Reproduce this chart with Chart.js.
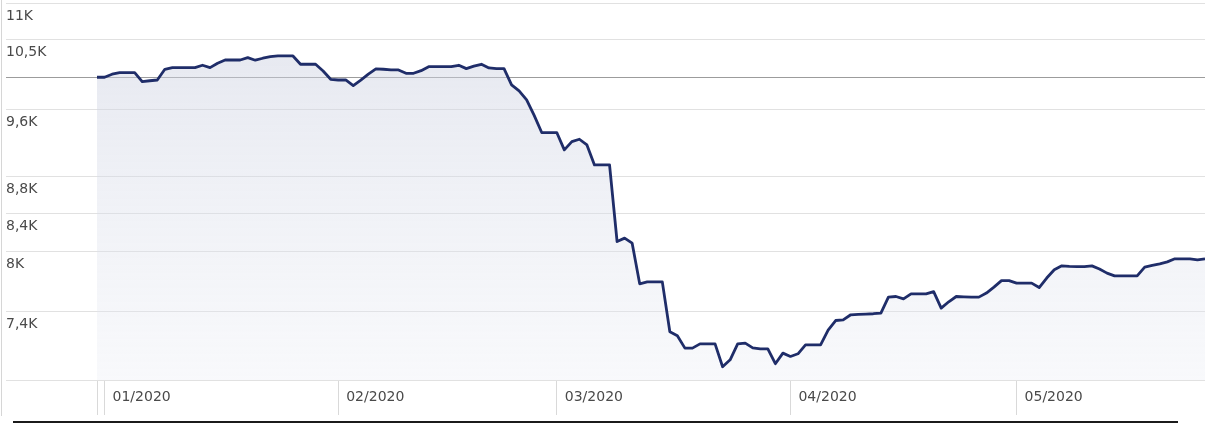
<!DOCTYPE html>
<html>
<head>
<meta charset="utf-8">
<script src="https://cdn.jsdelivr.net/npm/chart.js@4.4.1/dist/chart.umd.min.js"></script>
<style>
  html, body { margin: 0; padding: 0; background: #fff; }
  #wrap { position: relative; width: 1207px; height: 424px; overflow: hidden; }
  #chart { position: absolute; left: 0; top: 0; }
  #edge { position: absolute; left: 1px; top: 0; width: 1px; height: 416px; background: #d6d6d6; }
  #rail { position: absolute; left: 13px; top: 421px; width: 1165px; height: 2px; background: #1b1b1b; }
</style>
</head>
<body>
<div id="wrap">
  <canvas id="chart" width="1207" height="418"></canvas>
  <div id="edge"></div>
  <div id="rail"></div>
</div>
<script>
/* global Chart */

// daily closes, one per calendar day from the start date (weekends hold Friday's value)
const startDate = '2019-12-31'
const closes = [
  10000, 10000, 10039, 10059, 10059, 10059, 9944, 9955, 9965, 10103,
  10124, 10124, 10124, 10124, 10155, 10124, 10181, 10224, 10224, 10224,
  10255, 10221, 10247, 10268, 10277, 10277, 10277, 10168, 10168, 10168,
  10081, 9974, 9965, 9965, 9893, 9963, 10040, 10107, 10103, 10094,
  10094, 10051, 10051, 10085, 10137, 10137, 10137, 10137, 10155, 10111,
  10143, 10168, 10120, 10111, 10111, 9902, 9826, 9713, 9522, 9315,
  9315, 9315, 9110, 9207, 9235, 9168, 8936, 8936, 8936, 8099,
  8134, 8082, 7671, 7690, 7690, 7690, 7213, 7176, 7063, 7063,
  7102, 7102, 7102, 6896, 6958, 7102, 7109, 7066, 7057, 7057,
  6923, 7018, 6988, 7012, 7093, 7093, 7093, 7229, 7318, 7324,
  7372, 7375, 7378, 7382, 7388, 7541, 7547, 7524, 7573, 7573,
  7573, 7595, 7435, 7496, 7547, 7544, 7541, 7541, 7580, 7639,
  7703, 7703, 7678, 7678, 7678, 7634, 7728, 7810, 7850, 7845,
  7843, 7843, 7850, 7818, 7777, 7750, 7750, 7750, 7750, 7837,
  7855, 7870, 7890, 7921, 7921, 7921, 7911, 7921
]

const monthStarts = ['2020-01-01', '2020-02-01', '2020-03-01', '2020-04-01', '2020-05-01']
const monthLabels = ['01/2020', '02/2020', '03/2020', '04/2020', '05/2020']

const yTicks = [7400, 8000, 8400, 8800, 9600, 10500, 11000]
const referenceLevel = 10000
const yMin = 6780
const yMax = 11000

const dayOf = s => {
  const p = s.split('-').map(Number)
  const q = startDate.split('-').map(Number)
  return Math.round((Date.UTC(p[0], p[1] - 1, p[2]) - Date.UTC(q[0], q[1] - 1, q[2])) / 86400000)
}
const monthDays = monthStarts.map(dayOf)
const points = closes.map((v, i) => ({ x: i, y: v }))

const labelFont = { family: 'DejaVu Sans', size: 14 }
const labelColor = '#4a4a4a'
const gridColor = ctx => (ctx.tick && ctx.tick.value === referenceLevel) ? '#9c9c9c' : '#e1e1e1'
const kLabel = v => String(v / 1000).replace('.', ',') + 'K'

const areaFill = ctx => {
  const { chart } = ctx
  const area = chart.chartArea
  if (!area) return 'rgba(225,228,238,0.5)'
  const g = chart.ctx.createLinearGradient(0, area.top, 0, area.bottom)
  g.addColorStop(0, 'rgba(200,205,222,0.50)')
  g.addColorStop(1, 'rgba(232,235,243,0.30)')
  return g
}

new Chart(document.getElementById('chart'), {
  type: 'line',
  data: {
    datasets: [{
      data: points,
      borderColor: '#1f2d69',
      borderWidth: 2.8,
      borderJoinStyle: 'round',
      pointRadius: 0,
      tension: 0,
      fill: 'start',
      backgroundColor: areaFill
    }]
  },
  options: {
    responsive: false,
    animation: false,
    layout: { padding: { left: 6, top: 3, right: 2, bottom: 0 } },
    plugins: { legend: { display: false }, tooltip: { enabled: false } },
    scales: {
      x: {
        type: 'linear',
        min: 0,
        max: closes.length - 1,
        afterBuildTicks: s => { s.ticks = [{ value: 0 }].concat(monthDays.map(d => ({ value: d }))) },
        afterFit: s => { s.height = 38; s.paddingLeft = 0; s.paddingRight = 0 },
        grid: { drawOnChartArea: false, drawTicks: true, tickLength: 35, color: '#d9d9d9' },
        border: { display: false },
        ticks: {
          autoSkip: false,
          maxRotation: 0,
          align: 'start',
          labelOffset: 8,
          padding: -26,
          color: labelColor,
          font: labelFont,
          callback: v => {
            const k = monthDays.indexOf(v)
            return k < 0 ? '' : monthLabels[k]
          }
        }
      },
      y: {
        type: 'logarithmic',
        min: yMin,
        max: yMax,
        afterBuildTicks: s => {
          s.ticks = [yMin, referenceLevel].concat(yTicks).sort((a, b) => a - b).map(v => ({ value: v }))
        },
        afterFit: s => { s.width = 91; s.paddingTop = 0; s.paddingBottom = 0 },
        grid: { color: gridColor, tickColor: gridColor, tickLength: 91, drawTicks: true },
        border: { display: false },
        ticks: {
          autoSkip: false,
          crossAlign: 'far',
          padding: 0,
          labelOffset: 13,
          color: labelColor,
          font: labelFont,
          callback: v => yTicks.includes(v) ? kLabel(v) : ''
        }
      }
    }
  }
})
</script>
</body>
</html>
